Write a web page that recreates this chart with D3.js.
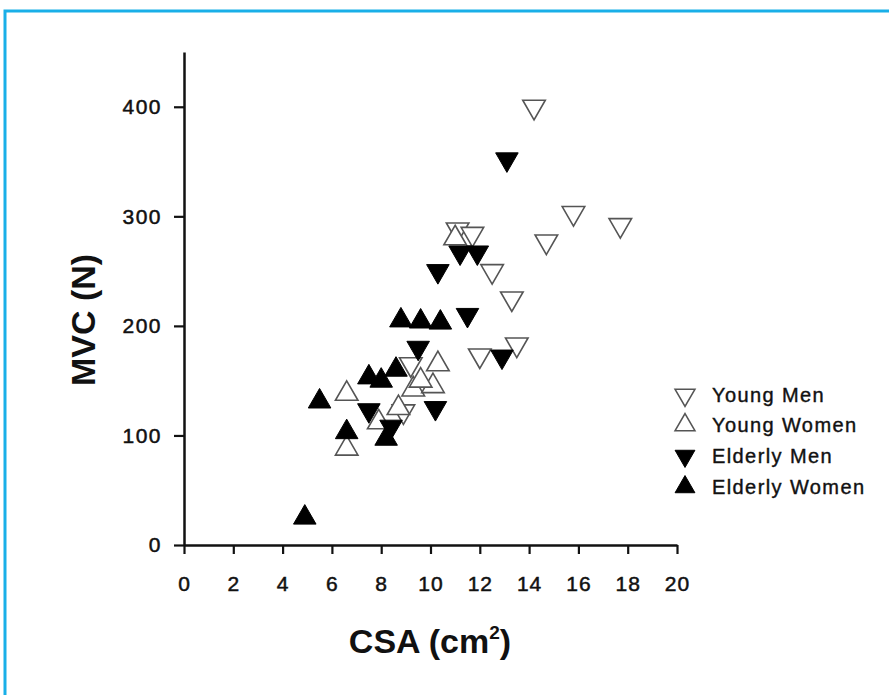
<!DOCTYPE html>
<html>
<head>
<meta charset="utf-8">
<script src="https://cdn.jsdelivr.net/npm/d3@7/dist/d3.min.js"></script>
<style>
html,body{margin:0;padding:0;background:#fff;}
svg{display:block;}
</style>
</head>
<body>
<svg id="chart" width="889" height="695"></svg>
<script>
// ---- data ----
const xTicks = [0,2,4,6,8,10,12,14,16,18,20];
const yTicks = [0,100,200,300,400];
const seriesNames = ["Young Men","Young Women","Elderly Men","Elderly Women"];

const youngMen = [
  [14.2,400],[15.8,303],[17.7,292],[14.7,277],[12.5,250],[13.3,225],
  [13.5,183],[12.0,173],[11.1,288],[11.7,284],[9.2,165],[8.9,122]
];
const youngWomen = [
  [6.6,138],[6.6,88],[9.3,142],[8.7,125],[10.1,145],[10.3,165],
  [7.9,112],[11.0,280],[9.6,150]
];
const elderlyMen = [
  [13.1,352],[11.2,267],[11.9,267],[10.3,250],[11.5,210],[9.5,180],
  [7.5,123],[8.4,108],[10.2,125],[12.9,172]
];
const elderlyWomen = [
  [4.9,25],[5.5,131],[6.6,103],[7.5,153],[8.0,150],[8.6,160],
  [8.8,205],[9.6,204],[10.4,203],[8.2,97]
];

// ---- layout ----
const svg = d3.select("#chart");
const x = d3.scaleLinear().domain([0,20]).range([184,677]);
const y = d3.scaleLinear().domain([0,450]).range([545,52]);

// blue frame
svg.append("rect").attr("x",5).attr("y",11).attr("width",910).attr("height",720)
  .attr("fill","none").attr("stroke","#19afe8").attr("stroke-width",3);

const font = "'Liberation Sans', Arial, Helvetica, sans-serif";

// y axis
const yAxis = svg.append("g").attr("transform",`translate(${x(0)},0)`)
  .call(d3.axisLeft(y).tickValues(yTicks).tickSize(10).tickPadding(12).tickSizeOuter(0));
yAxis.select(".domain").attr("stroke","#111").attr("stroke-width",2.5);
yAxis.selectAll(".tick line").attr("stroke","#111").attr("stroke-width",2.2);
yAxis.selectAll(".tick text").attr("font-family",font).attr("font-size",21)
  .attr("letter-spacing",1.5).attr("fill","#111").attr("stroke","#111").attr("stroke-width",0.5);

// x axis
const xAxis = svg.append("g").attr("transform",`translate(0,${y(0)})`)
  .call(d3.axisBottom(x).tickValues(xTicks).tickSize(9).tickPadding(22).tickSizeOuter(0));
xAxis.select(".domain").attr("stroke","#111").attr("stroke-width",2.5);
xAxis.selectAll(".tick line").attr("stroke","#111").attr("stroke-width",2.2);
xAxis.selectAll(".tick text").attr("font-family",font).attr("font-size",21)
  .attr("letter-spacing",1).attr("fill","#111").attr("stroke","#111").attr("stroke-width",0.5);

// axis titles
svg.append("text").attr("transform","translate(95,320) rotate(-90)")
  .attr("text-anchor","middle").attr("font-family",font).attr("font-weight","bold")
  .attr("font-size",34).attr("fill","#111").text("MVC (N)");

const xt = svg.append("text").attr("x",430).attr("y",653)
  .attr("text-anchor","middle").attr("font-family",font).attr("font-weight","bold")
  .attr("font-size",34).attr("fill","#111");
xt.append("tspan").text("CSA (cm");
xt.append("tspan").attr("dy",-14).attr("font-size",19).text("2");
xt.append("tspan").attr("dy",14).text(")");

// markers
const tri = d3.symbol().type(d3.symbolTriangle);
const styles = [
  {data: youngMen,     down:true,  fill:"#fff", stroke:"#555", sw:1.6},
  {data: youngWomen,   down:false, fill:"#fff", stroke:"#555", sw:1.6},
  {data: elderlyMen,   down:true,  fill:"#000", stroke:"#000", sw:1},
  {data: elderlyWomen, down:false, fill:"#000", stroke:"#000", sw:1}
];
const plot = svg.append("g");
styles.forEach(s => {
  plot.selectAll(null).data(s.data).enter().append("path")
    .attr("d", tri.size(220)())
    .attr("transform", d => `translate(${x(d[0])},${y(d[1])})${s.down?" rotate(180)":""}`)
    .attr("fill", s.fill).attr("stroke", s.stroke).attr("stroke-width", s.sw);
});

// legend
const legY = [395, 425, 456, 487];
const leg = svg.append("g");
styles.forEach((s,i) => {
  leg.append("path").attr("d", tri.size(170)())
    .attr("transform", `translate(685,${legY[i]})${s.down?" rotate(180)":""}`)
    .attr("fill", s.fill).attr("stroke", s.stroke).attr("stroke-width", s.sw);
  leg.append("text").attr("x",712).attr("y",legY[i]+7)
    .attr("font-family",font).attr("font-size",20).attr("letter-spacing",1.4).attr("fill","#111")
    .attr("stroke","#111").attr("stroke-width",0.4)
    .text(seriesNames[i]);
});
</script>
</body>
</html>
